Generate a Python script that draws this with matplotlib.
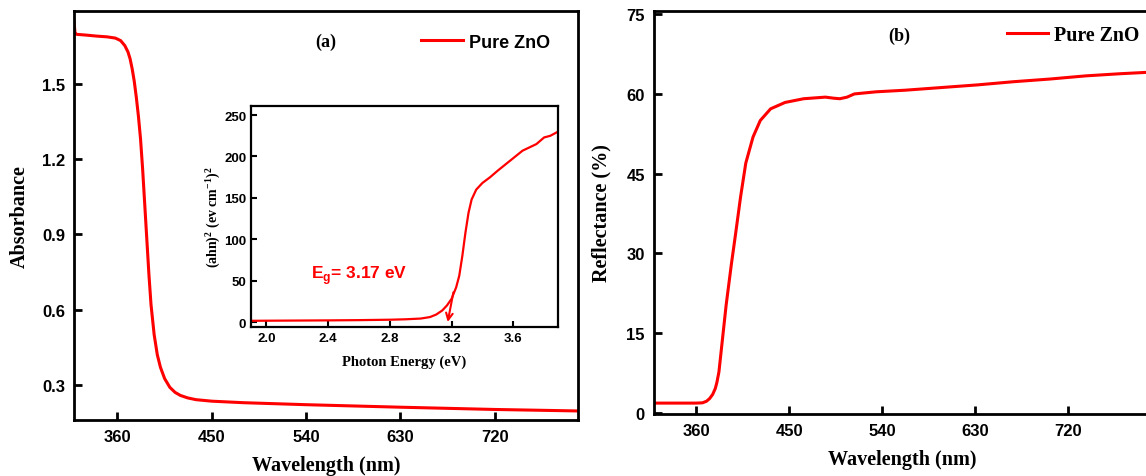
import matplotlib
matplotlib.use("Agg")
import matplotlib.pyplot as plt

# ---------------- data ----------------
wl_abs = [318.5, 319.5, 321, 330, 340, 350, 358, 363, 367, 370, 372, 374, 376, 378,
          380, 382, 384, 386, 388, 390, 392, 395, 398, 401, 405, 410, 415, 420, 427,
          435, 450, 480, 540, 630, 720, 800]
absorbance = [1.75, 1.70, 1.697, 1.694, 1.69, 1.687, 1.682, 1.672, 1.652, 1.627, 1.60,
              1.56, 1.51, 1.445, 1.37, 1.28, 1.16, 1.02, 0.88, 0.74, 0.62, 0.50, 0.42,
              0.37, 0.325, 0.29, 0.27, 0.258, 0.248, 0.241, 0.235, 0.229, 0.221, 0.211,
              0.202, 0.196]

wl_ref = [318, 340, 360, 366, 370, 373, 376, 378.5, 380, 382, 385.5, 389, 394, 398, 403,
          408, 415, 422, 432, 446, 464, 485, 493, 499, 506, 513, 534, 562, 597, 632, 667,
          702, 737, 770, 800]
reflectance = [1.85, 1.85, 1.85, 1.9, 2.2, 2.7, 3.5, 4.6, 5.7, 7.7, 14.0, 20.3, 27.9,
               33.5, 40.7, 47.0, 51.9, 55.0, 57.2, 58.4, 59.1, 59.4, 59.2, 59.1, 59.4,
               60.0, 60.4, 60.7, 61.2, 61.7, 62.3, 62.8, 63.4, 63.8, 64.1]

energy = [1.90, 2.2, 2.4, 2.6, 2.8, 2.9, 3.0, 3.06, 3.10, 3.14, 3.17, 3.20, 3.23, 3.25,
          3.27, 3.29, 3.31, 3.33, 3.36, 3.40, 3.45, 3.50, 3.58, 3.66, 3.75, 3.80, 3.84, 3.89]
tauc = [1.5, 1.8, 2.0, 2.3, 2.8, 3.3, 4.2, 6, 9, 14, 20, 28, 42, 56, 80, 108, 132, 148,
        160, 168, 175, 183, 195, 207, 215, 223, 225, 230]

wl_ticks = [360, 450, 540, 630, 720]
abs_ticks = [0.3, 0.6, 0.9, 1.2, 1.5]
ref_ticks = [0, 15, 30, 45, 60, 75]
e_ticks = [2.0, 2.4, 2.8, 3.2, 3.6]
tauc_ticks = [0, 50, 100, 150, 200, 250]
band_gap = 3.17
series_label = "Pure ZnO"

# ---------------- style ----------------
plt.rcParams['mathtext.fontset'] = 'custom'
plt.rcParams['mathtext.rm'] = 'Liberation Serif:bold'
plt.rcParams['mathtext.sf'] = 'Liberation Sans:bold'
plt.rcParams['axes.unicode_minus'] = False

SANS = 'Liberation Sans'
SERIF = 'Liberation Serif'
RED = '#ff0000'

W, H = 1146, 477
fig = plt.figure(figsize=(W / 100, H / 100), dpi=100)
fig.patch.set_facecolor('white')


def px_axes(l, r, t, b):
    return fig.add_axes([l / W, (H - b) / H, (r - l) / W, (b - t) / H])


def style_axes(ax, lw=2.0, tick_len=6, tick_w=2.0, size=12, pad=6.5):
    for s in ax.spines.values():
        s.set_linewidth(lw)
    ax.tick_params(direction='in', length=tick_len, width=tick_w, pad=pad,
                   top=False, right=False, labelsize=size)
    for lab in ax.get_xticklabels() + ax.get_yticklabels():
        lab.set_fontfamily(SANS)
        lab.set_fontweight('bold')


# ---------------- panel (a) ----------------
ax1 = px_axes(74, 578, 12, 421)
ax1.plot(wl_abs, absorbance, color=RED, lw=2.2, label=series_label)
ax1.set_xlim(318.5, 799.5)
ax1.set_ylim(0.16, 1.79)
ax1.set_xticks(wl_ticks)
ax1.set_yticks(abs_ticks)
ax1.set_yticklabels([f"{v:.1f}" for v in abs_ticks])
style_axes(ax1)
ax1.set_xlabel("Wavelength (nm)", fontfamily=SERIF, fontweight='bold', fontsize=14.5, labelpad=8)
ax1.set_ylabel("Absorbance", fontfamily=SERIF, fontweight='bold', fontsize=14.5, labelpad=9)
ax1.text(0.5, 0.927, "(a)", transform=ax1.transAxes, ha='center', va='center',
         fontfamily=SERIF, fontweight='bold', fontsize=13)
leg1 = ax1.legend(loc='center left', bbox_to_anchor=(0.6885, 0.924), frameon=False,
                  borderpad=0, borderaxespad=0, handlelength=2.3, handletextpad=0.35,
                  prop={'family': SANS, 'weight': 'bold', 'size': 13})

# ---------------- inset ----------------
axi = px_axes(251, 558, 107, 328)
axi.plot(energy, tauc, color=RED, lw=1.6)
axi.set_xlim(1.9, 3.89)
axi.set_ylim(-6, 261)
axi.set_xticks(e_ticks)
axi.set_yticks(tauc_ticks)
style_axes(axi, lw=1.6, tick_len=4, tick_w=1.5, size=9.5, pad=3.5)
axi.set_xlabel("Photon Energy (eV)", fontfamily=SERIF, fontweight='bold', fontsize=10.5, labelpad=8)
axi.set_ylabel("(ahn)$^{2}$ (ev cm$^{-1}$)$^{2}$", fontfamily=SERIF, fontweight='bold',
               fontsize=10, labelpad=1.5)
axi.annotate("", xy=(band_gap + 0.005, 0), xytext=(3.212, 36),
             arrowprops=dict(arrowstyle='->', color=RED, lw=1.5, mutation_scale=12,
                             shrinkA=0, shrinkB=0))
axi.text(2.29, 53, "E$_\\mathsf{g}$= " + f"{band_gap:.2f} eV", color=RED, ha='left',
         va='baseline', fontfamily=SANS, fontweight='bold', fontsize=12.5)

# ---------------- panel (b) ----------------
ax2 = px_axes(654, 1151, 12, 415)
ax2.plot(wl_ref, reflectance, color=RED, lw=2.2, label=series_label)
ax2.set_xlim(319.2, 800)
ax2.set_ylim(-0.2, 75.6)
ax2.set_xticks(wl_ticks)
ax2.set_yticks(ref_ticks)
style_axes(ax2)
ax2.set_xlabel("Wavelength (nm)", fontfamily=SERIF, fontweight='bold', fontsize=14.5, labelpad=8)
ax2.set_ylabel("Reflectance (%)", fontfamily=SERIF, fontweight='bold', fontsize=14.5, labelpad=11)
ax2.text(0.494, 0.9405, "(b)", transform=ax2.transAxes, ha='center', va='center',
         fontfamily=SERIF, fontweight='bold', fontsize=13)
leg2 = ax2.legend(loc='center left', bbox_to_anchor=(0.710, 0.9405), frameon=False,
                  borderpad=0, borderaxespad=0, handlelength=2.06, handletextpad=0.3,
                  prop={'family': SERIF, 'weight': 'bold', 'size': 14.3})

fig.savefig("out.png", dpi=100, facecolor='white')
